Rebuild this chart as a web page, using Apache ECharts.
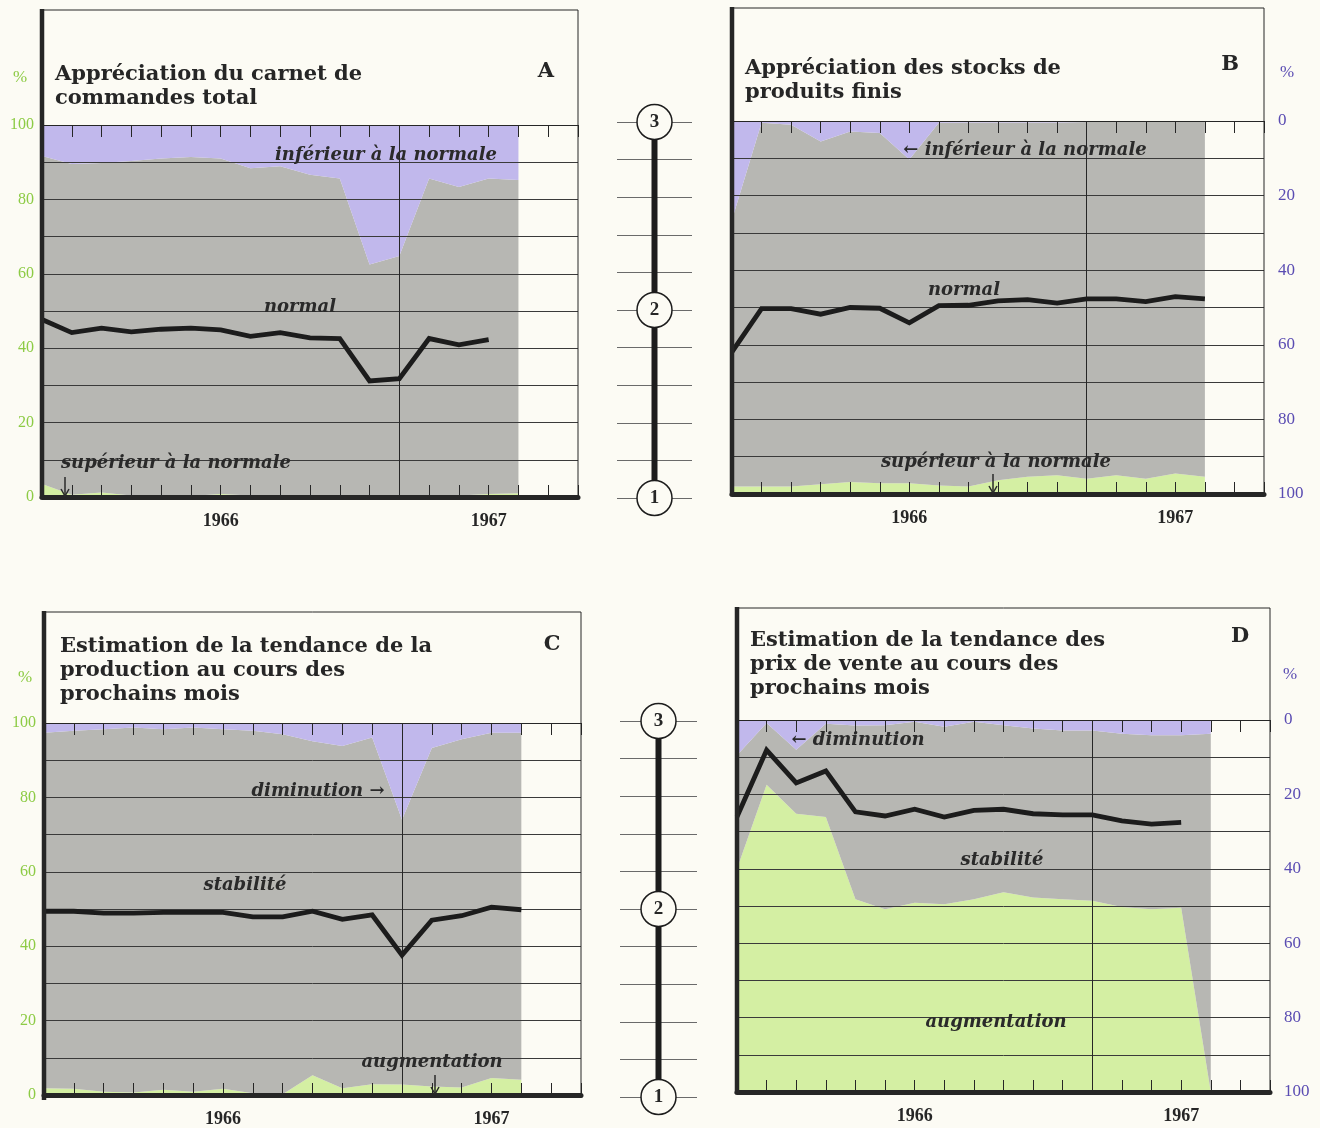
<!DOCTYPE html>
<html>
<head>
<meta charset="utf-8">
<title>Enquête de conjoncture 1966-1967</title>
<script src="https://cdn.jsdelivr.net/npm/echarts@6.0.0/dist/echarts.min.js"></script>
<style>
  html, body { margin: 0; padding: 0; background: #fcfbf4; }
  #chart { width: 1320px; height: 1128px; }
</style>
</head>
<body>
<div id="chart"></div>
<script>
// Months on the time axis (Jan 1966 .. Jul 1967); survey points cover the first 17
const months = ['1966-01', '1966-02', '1966-03', '1966-04', '1966-05', '1966-06', '1966-07',
                '1966-08', '1966-09', '1966-10', '1966-11', '1966-12', '1967-01', '1967-02',
                '1967-03', '1967-04', '1967-05', '1967-06', '1967-07'];
const yearLabels = { '1966-07': '1966', '1967-04': '1967' };
const yearBreak = '1967-01';
const pctTicks = [0, 20, 40, 60, 80, 100];
const scaleLevels = [1, 2, 3];

// A — carnet de commandes total (% of answers)
const aSup  = [3.5, 0.6, 1.2, 0.4, 0.2, 0.3, 0.8, 0.4, 0.2, 0.2, 0.2, 0.3, 0.3, 0.3, 0.4, 0.8, 1.0];
const aNorm = [88.2, 88.9, 88.6, 89.9, 90.8, 91.1, 90.2, 88.0, 88.7, 86.4, 85.4, 62.2, 64.5, 85.3, 82.9, 84.8, 84.2];
const aInf  = [8.3, 10.5, 10.2, 9.7, 9.0, 8.6, 9.0, 11.6, 11.1, 13.4, 14.4, 37.5, 35.2, 14.4, 16.7, 14.4, 14.8];
const aLine = [47.7, 44.2, 45.4, 44.4, 45.1, 45.4, 44.9, 43.2, 44.2, 42.8, 42.6, 31.2, 31.8, 42.6, 40.9, 42.3];

// B — stocks de produits finis
const bSup  = [2.0, 2.0, 2.0, 2.6, 3.2, 2.9, 2.9, 2.3, 2.0, 3.7, 4.6, 5.0, 4.1, 5.0, 4.1, 5.5, 4.6];
const bNorm = [71.5, 97.5, 97.0, 91.9, 94.0, 93.9, 86.8, 97.2, 97.6, 95.9, 95.0, 94.6, 95.6, 95.0, 95.9, 94.5, 95.4];
const bInf  = [26.5, 0.5, 1.0, 5.5, 2.8, 3.2, 10.3, 0.5, 0.4, 0.4, 0.4, 0.4, 0.3, 0.0, 0.0, 0.0, 0.0];
const bLine = [38.1, 49.7, 49.7, 48.2, 50.0, 49.8, 45.9, 50.5, 50.6, 51.8, 52.1, 51.2, 52.3, 52.3, 51.6, 52.9, 52.3];

// C — tendance de la production
const cSup  = [1.8, 1.7, 0.9, 0.7, 1.4, 0.9, 1.7, 0.5, 0.2, 5.3, 1.8, 2.9, 2.8, 2.3, 2.0, 4.6, 4.1];
const cNorm = [95.6, 96.2, 97.4, 98.1, 96.9, 97.9, 96.6, 97.4, 96.8, 89.8, 92.0, 93.2, 71.2, 91.0, 93.6, 92.8, 93.3];
const cInf  = [2.6, 2.1, 1.7, 1.2, 1.7, 1.2, 1.7, 2.1, 3.0, 4.9, 6.2, 3.9, 26.0, 6.7, 4.4, 2.6, 2.6];
const cLine = [49.4, 49.4, 48.9, 48.9, 49.1, 49.1, 49.1, 47.9, 47.9, 49.4, 47.2, 48.4, 37.6, 47.0, 48.2, 50.5, 49.8];

// D — tendance des prix de vente
const dSup  = [60.0, 82.6, 74.8, 73.9, 51.8, 49.1, 50.9, 50.5, 51.8, 53.7, 52.3, 51.8, 51.4, 49.7, 49.1, 49.5, 0.0];
const dNorm = [30.5, 16.6, 17.2, 25.1, 46.7, 49.5, 48.6, 47.7, 47.7, 44.9, 45.4, 45.4, 45.8, 46.6, 46.8, 46.4, 96.3];
const dInf  = [9.5, 0.8, 8.0, 1.0, 1.5, 1.4, 0.5, 1.8, 0.5, 1.4, 2.3, 2.8, 2.8, 3.7, 4.1, 4.1, 3.7];
const dLine = [74.0, 91.9, 83.1, 86.3, 75.3, 74.2, 76.0, 73.9, 75.7, 76.0, 74.8, 74.5, 74.5, 72.9, 72.0, 72.5];

// ---- styling ----
const ink = '#262626';
const gridInk = '#3a3a3a';
const greenFill = '#d4efa3';
const grayFill = '#b7b7b3';
const purpleFill = '#c1b8ec';
const greenInk = '#8dcb45';
const purpleInk = '#5a4cb2';
const paper = '#fcfbf4';
const serifBold = '"DejaVu Serif", "Liberation Serif", serif';
const times = '"Liberation Serif", "DejaVu Serif", serif';

const panels = [
  { letter: 'A', side: 'left', box: { left: 42, top: 125, width: 536, height: 372 }, frameTop: 10,
    sup: aSup, norm: aNorm, inf: aInf, line: aLine,
    title: 'Appréciation du carnet de\ncommandes total', titlePos: [55, 63], letterPos: [546, 72], pctPos: [20, 78],
    notes: [
      ['inférieur à la normale', 386, 155], ['normal', 300, 307],
      ['supérieur à la normale', 176, 463]
    ], arrows: [[65, 487]] },
  { letter: 'B', side: 'right', box: { left: 732, top: 121, width: 532, height: 373 }, frameTop: 8,
    sup: bSup, norm: bNorm, inf: bInf, line: bLine,
    title: 'Appréciation des stocks de\nproduits finis', titlePos: [745, 57], letterPos: [1230, 65], pctPos: [1287, 73],
    notes: [
      ['← inférieur à la normale', 1025, 150], ['normal', 964, 290],
      ['supérieur à la normale', 996, 462]
    ], arrows: [[993, 484]] },
  { letter: 'C', side: 'left', box: { left: 44, top: 723, width: 537, height: 375 }, frameTop: 612,
    sup: cSup, norm: cNorm, inf: cInf, line: cLine,
    title: 'Estimation de la tendance de la\nproduction au cours des\nprochains mois', titlePos: [60, 635], letterPos: [552, 645], pctPos: [25, 678],
    notes: [
      ['diminution →', 318, 791], ['stabilité', 245, 885],
      ['augmentation', 432, 1062]
    ], arrows: [[435, 1085]] },
  { letter: 'D', side: 'right', box: { left: 737, top: 720, width: 533, height: 372 }, frameTop: 608,
    sup: dSup, norm: dNorm, inf: dInf, line: dLine,
    title: 'Estimation de la tendance des\nprix de vente au cours des\nprochains mois', titlePos: [750, 629], letterPos: [1240, 637], pctPos: [1290, 675],
    notes: [
      ['← diminution', 858, 740], ['stabilité', 1002, 860],
      ['augmentation', 996, 1022]
    ], arrows: [] }
];

// 1-2-3 balance scales between the panels
const scales = [
  { box: { left: 617, top: 122, width: 75, height: 376 } },
  { box: { left: 620, top: 721, width: 77, height: 376 } }
];

const grid = [], xAxis = [], yAxis = [], series = [], graphic = [];

panels.forEach((p, gi) => {
  grid.push(Object.assign({ containLabel: false }, p.box));
  const xBase = xAxis.length;
  xAxis.push({
    gridIndex: gi, type: 'category', data: months, boundaryGap: false, position: 'bottom', z: 3,
    axisLine: { show: true, onZero: false, lineStyle: { color: ink, width: 5 } },
    axisTick: { show: true, inside: true, length: 12, interval: 0, lineStyle: { color: ink, width: 1 } },
    axisLabel: { interval: 0, formatter: v => yearLabels[v] || '', color: ink, fontFamily: times,
                 fontWeight: 'bold', fontSize: 18, margin: 15 },
    splitLine: { show: false }
  });
  xAxis.push({
    gridIndex: gi, type: 'category', data: months, boundaryGap: false, position: 'top', z: 3,
    axisLine: { show: true, onZero: false, lineStyle: { color: ink, width: 1 } },
    axisTick: { show: true, inside: true, length: 12, interval: 0, lineStyle: { color: ink, width: 1 } },
    axisLabel: { show: false }, splitLine: { show: false }
  });
  const yBase = yAxis.length;
  yAxis.push({
    gridIndex: gi, type: 'value', min: 0, max: 100, interval: 10, position: 'left', z: 3,
    axisLine: { show: false }, axisTick: { show: false },
    axisLabel: p.side === 'left'
      ? { formatter: v => pctTicks.includes(v) ? String(v) : '', color: greenInk,
          fontFamily: times, fontSize: 16, margin: 8 }
      : { show: false },
    splitLine: { show: true, lineStyle: { color: gridInk, width: 1 } }
  });
  if (p.side === 'right') {
    yAxis.push({
      gridIndex: gi, type: 'value', min: 0, max: 100, interval: 20, inverse: true, position: 'right', z: 3,
      axisLine: { show: false }, axisTick: { show: false }, splitLine: { show: false },
      axisLabel: { color: purpleInk, fontFamily: times, fontSize: 17, margin: 14 }
    });
  }

  const area = (name, vals, color) => ({
    name, type: 'line', xAxisIndex: xBase, yAxisIndex: yBase, stack: 'share' + p.letter,
    data: vals, symbol: 'none', silent: true, z: 1,
    lineStyle: { width: 0 }, areaStyle: { color, opacity: 1 }
  });
  series.push(area('sup' + p.letter, p.sup, greenFill));
  series.push(area('norm' + p.letter, p.norm, grayFill));
  series.push(area('inf' + p.letter, p.inf, purpleFill));
  series.push({
    name: 'solde' + p.letter, type: 'line', xAxisIndex: xBase, yAxisIndex: yBase, z: 5,
    data: p.line, symbol: 'none', silent: true,
    lineStyle: { color: '#1c1c1c', width: 4.8, join: 'miter' },
    markLine: { silent: true, symbol: 'none', label: { show: false },
                lineStyle: { color: ink, width: 1, type: 'solid' }, data: [{ xAxis: yearBreak }] }
  });

  // frame
  const L = p.box.left, R = p.box.left + p.box.width, B = p.box.top + p.box.height;
  graphic.push({ type: 'polyline', z: 4, silent: true,
    shape: { points: [[L, p.frameTop], [R, p.frameTop], [R, B]] },
    style: { stroke: ink, lineWidth: 1, fill: null } });
  graphic.push({ type: 'line', z: 6, silent: true,
    shape: { x1: L, y1: p.frameTop - 1, x2: L, y2: B + 2 },
    style: { stroke: ink, lineWidth: 4.5 } });

  // titles
  graphic.push({ type: 'text', z: 6, x: p.titlePos[0], y: p.titlePos[1],
    style: { text: p.title, font: 'bold 21px ' + serifBold, fill: ink, lineHeight: 24, verticalAlign: 'top' } });
  graphic.push({ type: 'text', z: 6, x: p.letterPos[0], y: p.letterPos[1],
    style: { text: p.letter, font: 'bold 21px ' + serifBold, fill: ink, align: 'center', verticalAlign: 'middle' } });
  graphic.push({ type: 'text', z: 6, x: p.pctPos[0], y: p.pctPos[1],
    style: { text: '%', font: '17px ' + times, fill: p.side === 'left' ? greenInk : purpleInk,
             align: 'center', verticalAlign: 'middle' } });
  // zone names
  p.notes.forEach(([t, x, y]) => {
    graphic.push({ type: 'text', z: 7, x, y,
      style: { text: t, font: 'italic bold 18px ' + serifBold, fill: '#2a2a2a', align: 'center', verticalAlign: 'middle' } });
  });
  // small pointers towards the thin bottom band
  p.arrows.forEach(([x, y]) => {
    graphic.push({ type: 'polyline', z: 7, silent: true,
      shape: { points: [[x, y - 10], [x, y + 9]] }, style: { stroke: '#2a2a2a', lineWidth: 1.5, fill: null } });
    graphic.push({ type: 'polyline', z: 7, silent: true,
      shape: { points: [[x - 4, y + 2], [x, y + 9], [x + 4, y + 2]] }, style: { stroke: '#2a2a2a', lineWidth: 1.5, fill: null } });
  });
});

scales.forEach((s) => {
  const gi = grid.length;
  grid.push(Object.assign({ containLabel: false }, s.box));
  const xi = xAxis.length, yi = yAxis.length;
  xAxis.push({ gridIndex: gi, type: 'value', min: -1, max: 1, show: false });
  yAxis.push({ gridIndex: gi, type: 'value', min: 1, max: 3, interval: 0.2,
    axisLine: { show: false }, axisTick: { show: false }, axisLabel: { show: false },
    splitLine: { show: true, lineStyle: { color: '#6a6a6a', width: 1 } } });
  series.push({ type: 'line', xAxisIndex: xi, yAxisIndex: yi, silent: true, symbol: 'none', z: 3,
    data: [[0, scaleLevels[0]], [0, scaleLevels[scaleLevels.length - 1]]],
    lineStyle: { color: '#1c1c1c', width: 6 } });
  series.push({ type: 'scatter', xAxisIndex: xi, yAxisIndex: yi, silent: true, z: 4,
    data: scaleLevels.map(v => [0, v]), symbol: 'circle', symbolSize: 35,
    itemStyle: { color: paper, borderColor: '#1c1c1c', borderWidth: 1.5, opacity: 1 },
    label: { show: true, position: 'inside', formatter: q => String(q.value[1]),
             color: ink, fontFamily: times, fontWeight: 'bold', fontSize: 19 } });
});

const chart = echarts.init(document.getElementById('chart'), null, { renderer: 'canvas' });
chart.setOption({
  backgroundColor: paper,
  animation: false,
  tooltip: { show: false },
  grid, xAxis, yAxis, series, graphic
});
</script>
</body>
</html>
